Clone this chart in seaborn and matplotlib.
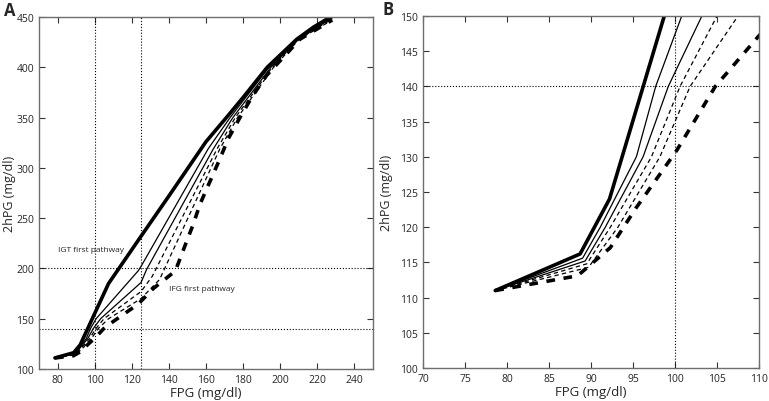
import numpy as np
import pandas as pd
import matplotlib
matplotlib.use("Agg")
import matplotlib.pyplot as plt
import seaborn as sns

# curves: FPG (x) and 2hPG (y), six pathways
c1_x = [78.6, 88.7, 92.2, 107.5, 125, 140, 160, 171, 180, 193, 209, 218, 228]
c1_y = [111, 116.2, 124, 185, 232, 272, 326, 350, 370, 400, 428, 440, 451]
c2_x = [78.6, 89.0, 91.1, 95.4, 97.7, 100.8, 123.5, 125.3, 161.2, 173, 194, 209.3, 228]
c2_y = [111, 115.6, 120, 130, 140, 150, 197.7, 203, 319, 350, 400, 428, 450]
c3_x = [78.6, 89.3, 91.7, 96.2, 99.2, 103.2, 125, 128, 164, 174.5, 195, 209.6, 228]
c3_y = [111, 115.2, 120, 130, 140, 150, 186, 199, 319, 350, 400, 428, 449]
c4_x = [78.6, 89.5, 92.3, 97.2, 100.6, 105, 125, 131, 166, 175.8, 195.7, 210, 228]
c4_y = [111, 114.8, 120, 130, 140, 150, 177, 192, 319, 350, 400, 428, 448]
c5_x = [78.6, 89.7, 93.2, 98.2, 101.8, 107.5, 125, 135, 167.5, 177, 196.4, 210.3, 228]
c5_y = [111, 114.3, 120, 130, 140, 150, 170, 189, 319, 350, 400, 428, 447]
c6_x = [78.6, 88.4, 92.3, 95.4, 100.2, 104.8, 110, 123.5, 131.6, 143.5, 148.7, 153.2,
        156.8, 167.5, 172, 178.3, 184.6, 192.7, 201.7, 210.7, 228]
c6_y = [111, 113.1, 117.1, 122.8, 130.9, 140, 147.2, 164.6, 180, 197.5, 222.7, 244.2,
        264, 309, 329, 350, 370, 392, 410, 428, 447]

curves = [(c1_x, c1_y), (c2_x, c2_y), (c3_x, c3_y),
          (c4_x, c4_y), (c5_x, c5_y), (c6_x, c6_y)]
# line look per curve: thick solid, 2 thin solid, 2 thin dashed, thick dashed
looks = [dict(lw=2.6, ls="-"), dict(lw=0.9, ls="-"), dict(lw=0.9, ls="-"),
         dict(lw=0.9, ls=(0, (3.5, 2.6))), dict(lw=0.9, ls=(0, (3.5, 2.6))),
         dict(lw=2.6, ls=(0, (2.4, 2.4)))]

sns.set_style("ticks")
plt.rcParams["font.family"] = ["Open Sans", "DejaVu Sans"]
plt.rcParams["xtick.direction"] = "in"
plt.rcParams["ytick.direction"] = "in"

fig = plt.figure(figsize=(7.69, 4.02), dpi=100)
axA = fig.add_axes([0.0507, 0.0796, 0.4343, 0.8756])
axB = fig.add_axes([0.5501, 0.0821, 0.4369, 0.8756])


def draw_curves(ax):
    for (xs, ys), lk in zip(curves, looks):
        df = pd.DataFrame({"FPG": xs, "2hPG": ys})
        sns.lineplot(data=df, x="FPG", y="2hPG", ax=ax, color="black",
                     linewidth=lk["lw"], linestyle=lk["ls"], sort=False,
                     estimator=None, clip_on=True)


def style_axes(ax, ylab_x):
    for s in ax.spines.values():
        s.set_color("#6e6e6e")
        s.set_linewidth(1.0)
    ax.tick_params(axis="both", which="both", direction="in", top=True, right=True,
                   length=4, width=0.8, color="#333333", labelsize=7.5, pad=3.5)
    ax.set_xlabel("FPG (mg/dl)", fontsize=9.5, labelpad=1)
    ax.set_ylabel("2hPG (mg/dl)", fontsize=9)
    ax.yaxis.set_label_coords(ylab_x, 0.5)


# panel A
draw_curves(axA)
axA.axvline(100, color="black", lw=0.8, ls=":")
axA.axvline(125, color="black", lw=0.8, ls=":")
axA.axhline(200, color="black", lw=0.8, ls=":")
axA.axhline(140, color="black", lw=0.8, ls=":")
axA.set_xlim(70, 250)
axA.set_ylim(100, 450)
axA.set_xticks(np.arange(80, 241, 20))
axA.set_yticks(np.arange(100, 451, 50))
axA.text(80, 219, "IGT first pathway", fontsize=6, va="center", ha="left")
axA.text(140, 180, "IFG first pathway", fontsize=6, va="center", ha="left")
style_axes(axA, -0.069)

# panel B
draw_curves(axB)
axB.axvline(100, color="black", lw=0.8, ls=":")
axB.axhline(140, color="black", lw=0.8, ls=":")
axB.set_xlim(70, 110)
axB.set_ylim(100, 150)
axB.set_xticks(np.arange(70, 111, 5))
axB.set_yticks(np.arange(100, 151, 5))
style_axes(axB, -0.089)

fig.text(0.005, 0.995, "A", fontsize=12, fontweight="bold", va="top", ha="left")
fig.text(0.497, 0.997, "B", fontsize=12, fontweight="bold", va="top", ha="left")

fig.savefig("out.png", dpi=100)
